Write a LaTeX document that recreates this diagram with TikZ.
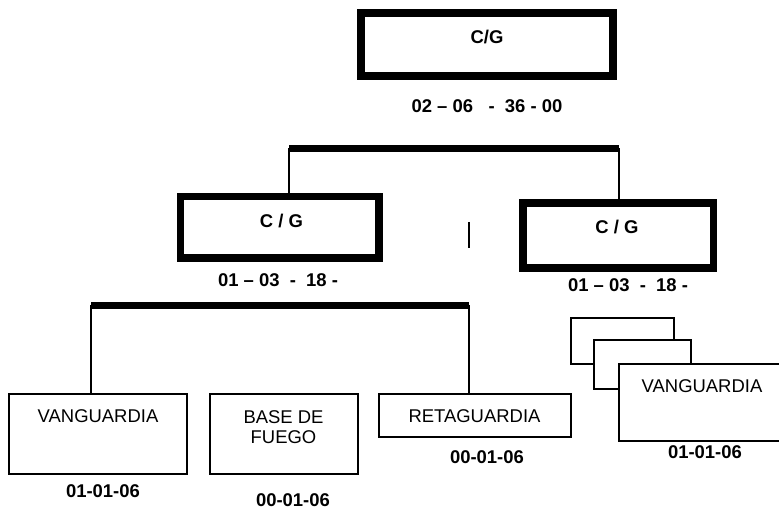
\documentclass[tikz,border=0pt]{standalone}
\usepackage{fontspec}
\setmainfont{Liberation Sans}
\begin{document}
\begin{tikzpicture}[x=0.02cm, y=-0.02cm, line join=miter,
    txt/.style={inner sep=0, anchor=base, font=\fontsize{10.5}{11.9}\selectfont},
    num/.style={txt, font=\fontsize{10.5}{11.9}\selectfont\bfseries},
    cgbox/.style={draw, line width=4.25pt, inner sep=0, minimum width=#1},
    unitbox/.style={draw, fill=white, line width=0.8pt, inner sep=0, minimum width=#1},
    bar/.style={line width=4pt},
    link/.style={line width=0.8pt}]
    \useasboundingbox (0,0) rectangle (779,510);
    \clip (0,0) rectangle (779,510);
    % mando
    \node[cgbox=5.04cm, line width=4.5pt, minimum height=1.26cm] (cg) at (487,44.5) {};
    \node[num] (cgT) at (487,44) {C/G};
    \node[num] (cgN) at (487,113) {02 – 06\ \ \ -\ \ 36 - 00};
    \coordinate (b1) at (289,148.5);
    \coordinate (b2) at (619,148.5);
    \draw[bar] (b1) -- (b2);
    % grupos
    \node[cgbox=3.97cm, minimum height=1.23cm] (cgl) at (279.75,227.25) {};
    \node[num] (cglT) at (281.5,228) {C / G};
    \node[num] (cglN) at (278,287) {01 – 03\ \ -\ \ 18 -};
    \node[cgbox=3.81cm, minimum height=1.30cm] (cgr) at (618.25,235.5) {};
    \node[num] (cgrT) at (617,234) {C / G};
    \node[num] (cgrN) at (628,292) {01 – 03\ \ -\ \ 18 -};
    \draw[link] (b1) -- (b1 |- cgl.north);
    \draw[link] (b2) -- (b2 |- cgr.north);
    \draw[line width=0.9pt] (469,222) -- (469,248);
    \coordinate (c1) at (91,305.5);
    \coordinate (c2) at (469,305.5);
    \draw[bar] (c1) -- (c2);
    % elementos
    \node[unitbox=3.56cm, minimum height=1.6cm] (van) at (98,434) {};
    \node[txt] (vanT) at (98,423) {VANGUARDIA};
    \node[num] (vanN) at (103,498) {01-01-06};
    \node[unitbox=2.96cm, minimum height=1.6cm] (base) at (284,434) {};
    \node[txt, align=center] (baseT) at (283.5,444) {BASE DE\\FUEGO};
    \node[num] (baseN) at (293,506.7) {00-01-06};
    \node[unitbox=3.84cm, minimum height=0.86cm] (ret) at (475,415.5) {};
    \node[txt] (retT) at (474.5,423) {RETAGUARDIA};
    \node[num] (retN) at (487,463) {00-01-06};
    \draw[link] (c1) -- (c1 |- van.north);
    \draw[link] (c2) -- (c2 |- ret.north);
    % escalones
    \node[unitbox=2.06cm, minimum height=0.92cm] (stk1) at (622.5,341) {};
    \node[unitbox=1.94cm, minimum height=0.98cm] (stk2) at (642.5,364.5) {};
    \node[unitbox=3.62cm, minimum height=1.54cm] (van2) at (709.5,402.5) {};
    \node[txt] (van2T) at (702,393) {VANGUARDIA};
    \node[num] (van2N) at (705,459) {01-01-06};
\end{tikzpicture}
\end{document}
